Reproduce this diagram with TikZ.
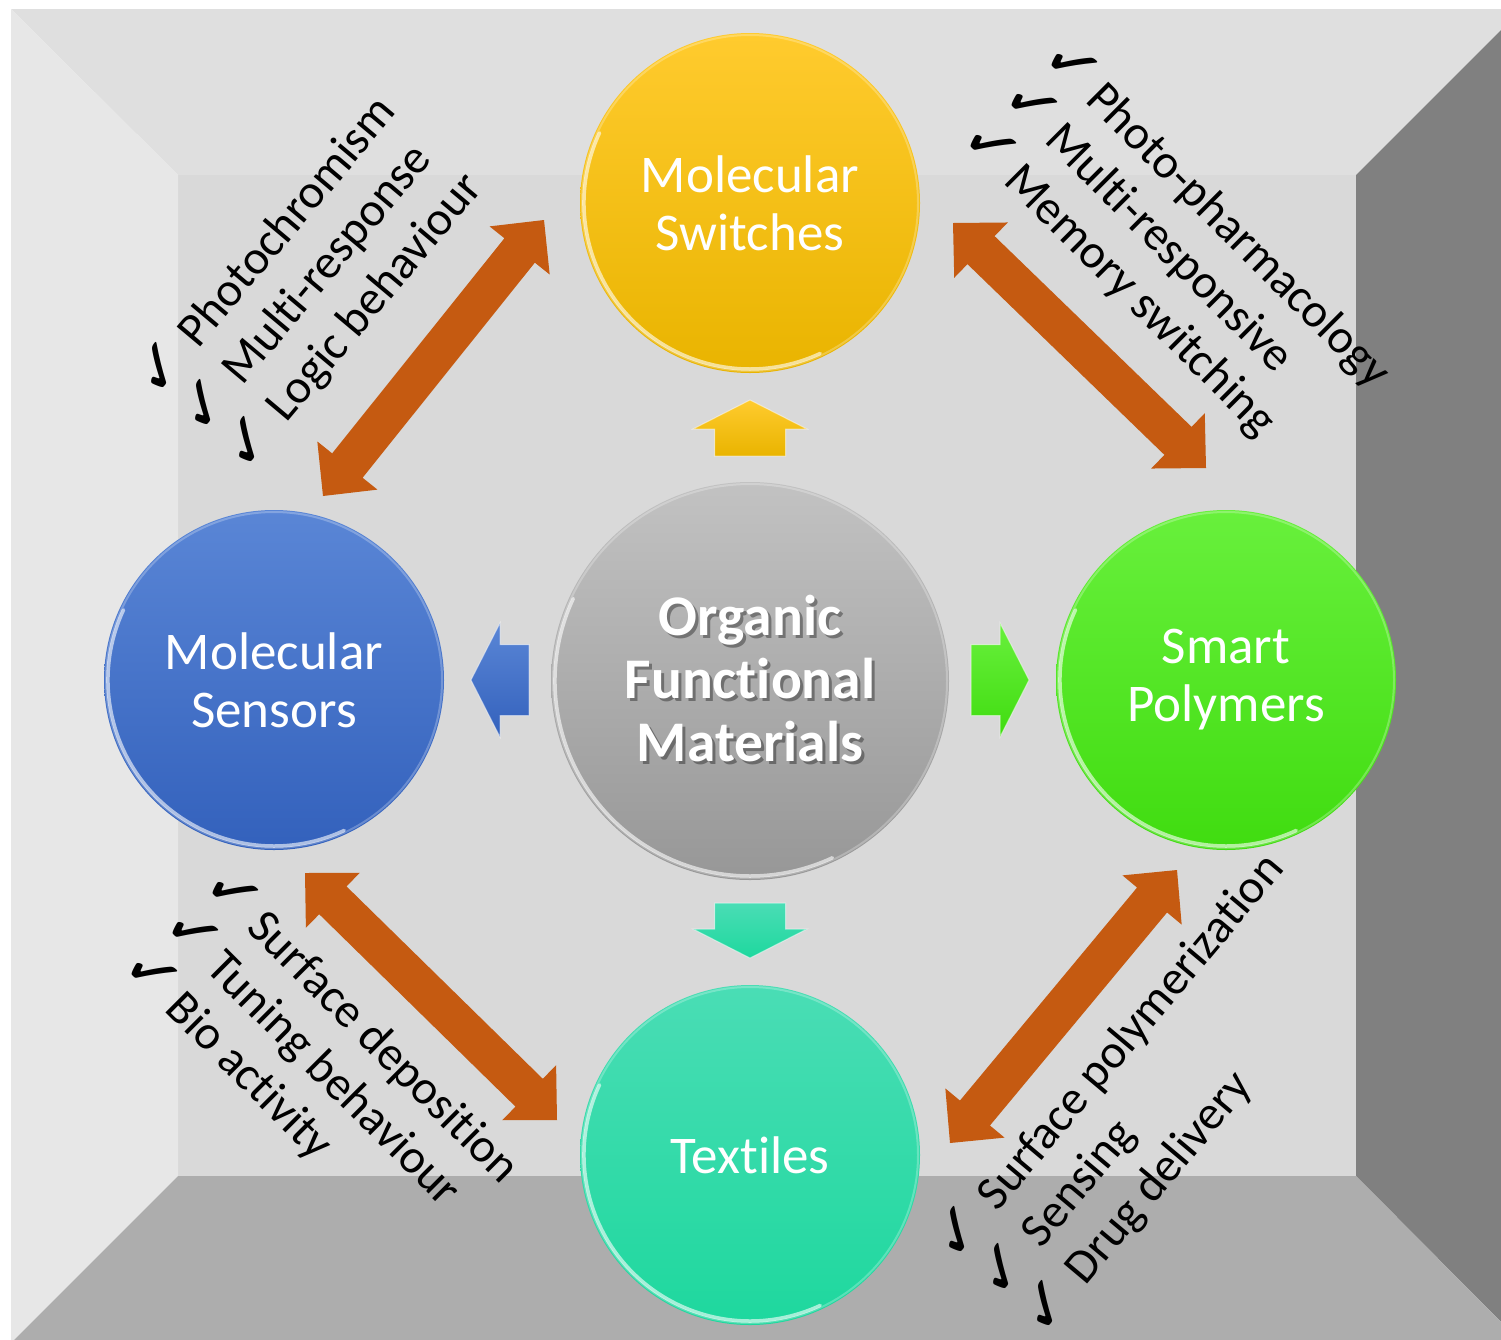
\documentclass[tikz,border=0pt]{standalone}
\usepackage{fontspec}
\setmainfont{Carlito}[Ligatures=NoCommon]
\newfontfamily\tickglyphfont{DejaVu Sans}
\usetikzlibrary{calc}

% panel colours of the box
\definecolor{panelTop}{HTML}{DFDFDF}
\definecolor{panelLeft}{HTML}{E7E7E7}
\definecolor{panelRight}{HTML}{808080}
\definecolor{panelBottom}{HTML}{ADADAD}
\definecolor{panelBack}{HTML}{D9D9D9}
\definecolor{linkOrange}{HTML}{C55A11}
% ball colours
\definecolor{ylwTop}{HTML}{FFCB2E}\definecolor{ylwBot}{HTML}{E9B400}
\definecolor{bluTop}{HTML}{5A86D6}\definecolor{bluBot}{HTML}{3361BC}
\definecolor{grnTop}{HTML}{68F03C}\definecolor{grnBot}{HTML}{40DC10}
\definecolor{tealTop}{HTML}{4ADDB5}\definecolor{tealBot}{HTML}{1ED89E}
\definecolor{grayTop}{HTML}{C2C2C2}\definecolor{grayBot}{HTML}{979797}

% double block arrow between two named points
\newcommand\dblblock[3]{%
  \coordinate (#3a) at ($(#1)!39pt!(#2)$);
  \coordinate (#3b) at ($(#2)!39pt!(#1)$);
  \fill[linkOrange] (#1)
    -- ($(#3a)!38.5pt!90:(#2)$) -- ($(#3a)!19.5pt!90:(#2)$)
    -- ($(#3b)!19.5pt!-90:(#1)$) -- ($(#3b)!38.5pt!-90:(#1)$)
    -- (#2)
    -- ($(#3b)!38.5pt!90:(#1)$) -- ($(#3b)!19.5pt!90:(#1)$)
    -- ($(#3a)!19.5pt!-90:(#2)$) -- ($(#3a)!38.5pt!-90:(#2)$)
    -- cycle;}

% single block arrow from tail point to tip point
\newcommand\oneblock[4]{%
  \coordinate (#3h) at ($(#2)!29pt!(#1)$);
  \path[#4] ($(#1)!35.5pt!90:(#2)$) -- ($(#3h)!35.5pt!90:(#2)$)
    -- ($(#3h)!57pt!90:(#2)$) -- (#2) -- ($(#3h)!57pt!-90:(#2)$)
    -- ($(#3h)!35.5pt!-90:(#2)$) -- ($(#1)!35.5pt!-90:(#2)$) -- cycle;}

% light bevel along the rim of a ball
\newcommand\rim[2]{%
  \draw[white, opacity=.25, line width=2pt] (#1) circle[radius=#2-2];
  \draw[white, opacity=.6, line width=3.5pt, line cap=round]
    ($(#1)+(205:#2-4)$) arc[start angle=205, end angle=65, radius=#2-4];}

\tikzset{
  ball/.style={circle, draw=none, minimum size=#1, inner sep=0pt,
    text=white, align=center, font=\fontsize{53}{58}\selectfont},
  tickmark/.style={font=\tickglyphfont\fontsize{66}{66}\selectfont, inner sep=0pt, anchor=center},
  itemtext/.style={font=\fontsize{48}{50}\selectfont, inner sep=0pt, anchor=base west},
  coretext/.style={font=\bfseries\fontsize{57.5}{63}\selectfont, align=center, inner sep=0pt},
}

\begin{document}
\begin{tikzpicture}[x=1pt, y=-1pt]
\useasboundingbox (0,0) rectangle (1501,1339);

% the open box
\begin{scope}
  \clip (0,0) rectangle (1501,1339);
  \fill[panelBack] (178,175) rectangle (1356,1176);
  \fill[panelTop] (11,9) -- (1522,9) -- (1356,175) -- (178,175) -- cycle;
  \fill[panelLeft] (11,9) -- (178,175) -- (178,1176) -- (13,1341) -- (11,1341) -- cycle;
  \fill[panelRight] (1522,9) -- (1522,1341) -- (1520,1341) -- (1356,1176) -- (1356,175) -- cycle;
  \fill[panelBottom] (13,1341) -- (178,1176) -- (1356,1176) -- (1520,1341) -- cycle;
\end{scope}

% balls
\node[ball=340pt, top color=ylwTop, bottom color=ylwBot] (sw) at (750,203) {Molecular\\Switches};
\node[ball=340pt, top color=bluTop, bottom color=bluBot] (se) at (274,680) {Molecular\\Sensors};
\node[ball=340pt, top color=grnTop, bottom color=grnBot] (sp) at (1226,680) {Smart\\Polymers};
\node[ball=340pt, top color=tealTop, bottom color=tealBot] (tx) at (750,1155) {Textiles};
\node[ball=398pt, top color=grayTop, bottom color=grayBot] (ofm) at (750,681) {};
\rim{sw}{170}\rim{se}{170}\rim{sp}{170}\rim{tx}{170}\rim{ofm}{199}

\node[coretext, text=black, opacity=.35] (ofmshadow) at (753,682) {Organic\\Functional\\Materials};
\node[coretext, text=white] (ofmlabel) at (750,679) {Organic\\Functional\\Materials};

% small arrows leaving the centre
\coordinate (upT) at (750,456);  \coordinate (upH) at (750,400);
\coordinate (lfT) at (529,680);  \coordinate (lfH) at (471,680);
\coordinate (rtT) at (971,680);  \coordinate (rtH) at (1029,680);
\coordinate (dnT) at (750,903);  \coordinate (dnH) at (750,958);
\oneblock{upT}{upH}{up}{top color=ylwTop, bottom color=ylwBot, draw=white, draw opacity=.5, line width=1pt}
\oneblock{lfT}{lfH}{lf}{top color=bluTop, bottom color=bluBot, draw=white, draw opacity=.5, line width=1pt}
\oneblock{rtT}{rtH}{rt}{top color=grnTop, bottom color=grnBot, draw=white, draw opacity=.5, line width=1pt}
\oneblock{dnT}{dnH}{dn}{top color=tealTop, bottom color=tealBot, draw=white, draw opacity=.5, line width=1pt}

% double arrows between neighbouring balls
\coordinate (tlA) at (544,220);  \coordinate (tlB) at (323,496);
\coordinate (trA) at (953,223);  \coordinate (trB) at (1206,468);
\coordinate (blA) at (305,873);  \coordinate (blB) at (557,1120);
\coordinate (brA) at (1177,870); \coordinate (brB) at (950,1143);
\dblblock{tlA}{tlB}{tl}
\dblblock{trA}{trB}{tr}
\dblblock{blA}{blB}{bl}
\dblblock{brA}{brB}{br}

% ticked lists
\begin{scope}[shift={(161,368)}, rotate=50, transform shape]
  \node[tickmark] (tl1c) at (0,0) {✓};
  \node[itemtext] (tl1) at (38,17) {Photochromism};
  \node[tickmark] (tl2c) at (0,57.5) {✓};
  \node[itemtext] (tl2) at (38,74.5) {Multi-response};
  \node[tickmark] (tl3c) at (0,115) {✓};
  \node[itemtext] (tl3) at (38,132) {Logic behaviour};
\end{scope}
\begin{scope}[shift={(1072,65)}, rotate=-45, transform shape]
  \node[tickmark] (tr1c) at (0,0) {✓};
  \node[itemtext] (tr1) at (34,17) {Photo-pharmacology};
  \node[tickmark] (tr2c) at (0,57.5) {✓};
  \node[itemtext] (tr2) at (34,74.5) {Multi-responsive};
  \node[tickmark] (tr3c) at (0,115) {✓};
  \node[itemtext] (tr3) at (34,132) {Memory switching};
\end{scope}
\begin{scope}[shift={(233,893)}, rotate=-45, transform shape]
  \node[tickmark] (bl1c) at (0,0) {✓};
  \node[itemtext] (bl1) at (34,17) {Surface deposition};
  \node[tickmark] (bl2c) at (0,57.5) {✓};
  \node[itemtext] (bl2) at (34,74.5) {Tuning behaviour};
  \node[tickmark] (bl3c) at (0,115) {✓};
  \node[itemtext] (bl3) at (34,132) {Bio activity};
\end{scope}
\begin{scope}[shift={(959,1232)}, rotate=50, transform shape]
  \node[tickmark] (br1c) at (0,0) {✓};
  \node[itemtext] (br1) at (40,17) {Surface polymerization};
  \node[tickmark] (br2c) at (0,57.5) {✓};
  \node[itemtext] (br2) at (40,74.5) {Sensing};
  \node[tickmark] (br3c) at (0,115) {✓};
  \node[itemtext] (br3) at (40,132) {Drug delivery};
\end{scope}
\end{tikzpicture}
\end{document}
